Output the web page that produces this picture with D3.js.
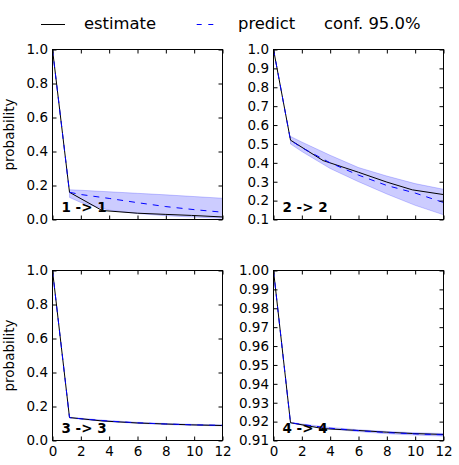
<!DOCTYPE html>
<html>
<head>
<meta charset="utf-8">
<script src="https://cdn.jsdelivr.net/npm/d3@7"></script>
<style>
  body { margin: 0; background: #fff; }
  svg { display: block; font-family: "DejaVu Sans", sans-serif; }
</style>
</head>
<body>
<svg id="chart" width="459" height="465"></svg>
<script>
// ---------- data ----------
const panelTitles = ["1 -> 1", "2 -> 2", "3 -> 3", "4 -> 4"];
const estTimes = [0, 1.2, 3.5, 6, 8, 9.8, 12];
const estimate11 = [1.0, 0.16, 0.053, 0.037, 0.030, 0.024, 0.015];
const estimate22 = [1.0, 0.52, 0.412, 0.35, 0.298, 0.257, 0.232];
const estimate33 = [1.0, 0.135, 0.115, 0.103, 0.097, 0.092, 0.088];
const estimate44 = [1.0, 0.9194, 0.9163, 0.9153, 0.9144, 0.9137, 0.9132];

const predTimes = [0, 1.2, 2, 4, 6, 8, 10, 12];
const predict11 = [1.0, 0.16, 0.147, 0.124, 0.099, 0.076, 0.058, 0.043];
const predict22 = [1.0, 0.52, 0.48, 0.40, 0.335, 0.28, 0.24, 0.19];
const predict33 = [1.0, 0.135, 0.128, 0.114, 0.104, 0.097, 0.092, 0.089];
const predict44 = [1.0, 0.9194, 0.9185, 0.9165, 0.9152, 0.9142, 0.9135, 0.9130];

const bandTimes = [1.2, 2, 4, 6, 8, 10, 12];
const upper11 = [0.175, 0.172, 0.163, 0.154, 0.145, 0.135, 0.125];
const lower11 = [0.13, 0.10, 0.055, 0.035, 0.022, 0.014, 0.008];
const upper22 = [0.54, 0.51, 0.44, 0.375, 0.33, 0.29, 0.26];
const lower22 = [0.50, 0.46, 0.37, 0.30, 0.235, 0.175, 0.125];
const upper33 = [0.137, 0.131, 0.117, 0.107, 0.100, 0.095, 0.092];
const lower33 = [0.133, 0.125, 0.111, 0.101, 0.094, 0.089, 0.086];
const upper44 = [0.9196, 0.9188, 0.9169, 0.9157, 0.9148, 0.9141, 0.9137];
const lower44 = [0.9192, 0.9182, 0.9161, 0.9147, 0.9136, 0.9129, 0.9123];

const xTicks = [0, 2, 4, 6, 8, 10, 12];
const yTicks11 = [0.0, 0.2, 0.4, 0.6, 0.8, 1.0];
const yTicks22 = [0.1, 0.2, 0.3, 0.4, 0.5, 0.6, 0.7, 0.8, 0.9, 1.0];
const yTicks33 = [0.0, 0.2, 0.4, 0.6, 0.8, 1.0];
const yTicks44 = [0.91, 0.92, 0.93, 0.94, 0.95, 0.96, 0.97, 0.98, 0.99, 1.00];

const legendLabels = ["estimate", "predict", "conf. 95.0%"];

// ---------- layout ----------
const svg = d3.select("#chart");
const W = 170, H = 170;
const panels = [
  {x: 52.5,  y: 49.5,  est: estimate11, pred: predict11, up: upper11, lo: lower11, yDom: [0, 1],    ticks: yTicks11, fmt: ".1f", xlab: false, ylab: true},
  {x: 273.5, y: 49.5,  est: estimate22, pred: predict22, up: upper22, lo: lower22, yDom: [0.1, 1],  ticks: yTicks22, fmt: ".1f", xlab: false, ylab: false},
  {x: 52.5,  y: 270.5, est: estimate33, pred: predict33, up: upper33, lo: lower33, yDom: [0, 1],    ticks: yTicks33, fmt: ".1f", xlab: true,  ylab: true},
  {x: 273.5, y: 270.5, est: estimate44, pred: predict44, up: upper44, lo: lower44, yDom: [0.91, 1], ticks: yTicks44, fmt: ".2f", xlab: true,  ylab: false}
];

panels.forEach((p, i) => {
  const g = svg.append("g").attr("transform", `translate(${p.x},${p.y})`);
  const x = d3.scaleLinear().domain([0, 12]).range([0, W]);
  const y = d3.scaleLinear().domain(p.yDom).range([H, 0]);

  const clipId = "clip" + i;
  g.append("clipPath").attr("id", clipId).append("rect").attr("width", W).attr("height", H);
  const plot = g.append("g").attr("clip-path", `url(#${clipId})`);

  // confidence band
  const area = d3.area().x((d, j) => x(bandTimes[j])).y0((d, j) => y(p.lo[j])).y1((d, j) => y(p.up[j]));
  plot.append("path").datum(p.up).attr("d", area)
    .attr("fill", "rgba(0,0,255,0.2)").attr("stroke", "rgba(0,0,255,0.2)").attr("stroke-width", 1);

  // estimate
  const lineE = d3.line().x((d, j) => x(estTimes[j])).y(d => y(d));
  plot.append("path").datum(p.est).attr("d", lineE)
    .attr("fill", "none").attr("stroke", "#000").attr("stroke-width", 1);

  // predict
  const lineP = d3.line().x((d, j) => x(predTimes[j])).y(d => y(d));
  plot.append("path").datum(p.pred).attr("d", lineP)
    .attr("fill", "none").attr("stroke", "#0000ff").attr("stroke-width", 1)
    .attr("stroke-dasharray", "6,6");

  // axes (inward ticks)
  const tickStyle = sel => {
    sel.select(".domain").remove();
    sel.selectAll(".tick line").attr("stroke", "#000");
    sel.selectAll(".tick text").attr("fill", "#000").style("font-size", "13.5px").style("font-family", "DejaVu Sans");
  };
  g.append("g").call(d3.axisLeft(y).tickValues(p.ticks).tickFormat(d3.format(p.fmt)).tickSizeInner(-4).tickSizeOuter(0).tickPadding(4.5))
    .call(tickStyle);
  g.append("g").attr("transform", `translate(${W},0)`)
    .call(d3.axisRight(y).tickValues(p.ticks).tickFormat("").tickSizeInner(-4).tickSizeOuter(0)).call(tickStyle);
  g.append("g").attr("transform", `translate(0,${H})`)
    .call(d3.axisBottom(x).tickValues(xTicks).tickFormat(p.xlab ? d3.format("d") : "").tickSizeInner(-4).tickSizeOuter(0).tickPadding(6))
    .call(tickStyle);
  g.append("g")
    .call(d3.axisTop(x).tickValues(xTicks).tickFormat("").tickSizeInner(-4).tickSizeOuter(0)).call(tickStyle);

  g.append("rect").attr("width", W).attr("height", H).attr("fill", "none").attr("stroke", "#000").attr("stroke-width", 1);

  // panel title
  g.append("text").attr("x", 9).attr("y", H - 8).text(panelTitles[i])
    .style("font-size", "13.5px").style("font-weight", "bold").attr("fill", "#000");

  if (p.ylab) {
    g.append("text").attr("transform", `translate(${-39},${H / 2}) rotate(-90)`)
      .attr("text-anchor", "middle").style("font-size", "13.5px").attr("fill", "#000").text("probability");
  }
});

// ---------- legend ----------
const lg = svg.append("g");
lg.append("line").attr("x1", 41).attr("x2", 65).attr("y1", 24.5).attr("y2", 24.5).attr("stroke", "#000").attr("stroke-width", 1);
lg.append("line").attr("x1", 196.7).attr("x2", 214).attr("y1", 24.5).attr("y2", 24.5).attr("stroke", "#0000ff").attr("stroke-width", 1).attr("stroke-dasharray", "5,6.6");
const legX = [84, 238, 324];
legendLabels.forEach((t, i) => {
  lg.append("text").attr("x", legX[i]).attr("y", 28.5).text(t).style("font-size", "16.4px").attr("fill", "#000");
});
</script>
</body>
</html>
